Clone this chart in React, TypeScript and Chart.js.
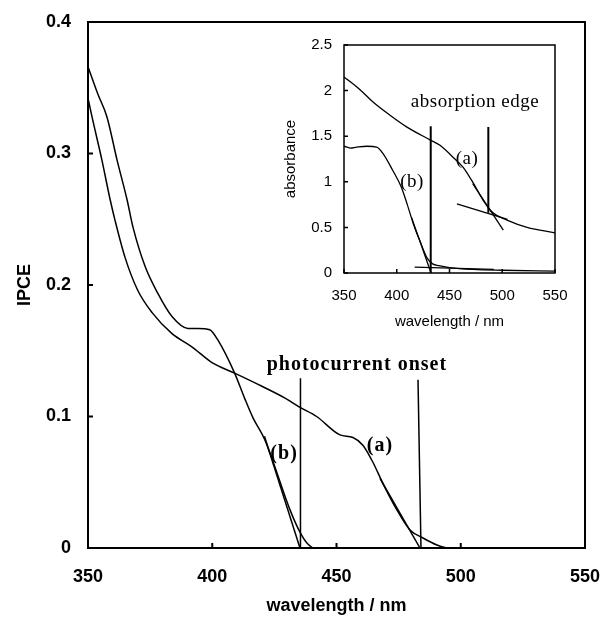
import React, { useEffect, useRef } from "react";
import { Chart, registerables } from "chart.js";
Chart.register(...registerables);

const W = 604;
const H = 618;

// ---------- Main chart: IPCE ----------
const xTicks = [350, 400, 450, 500, 550];
const ipceTicks = [0, 0.1, 0.2, 0.3, 0.4];

const ipceA_wl = [350, 351.6, 355.6, 358.9, 360.9, 364.9, 370, 375.8, 383.8, 391.8, 399.9, 409, 420, 429.3, 435.3, 442, 451.4, 456.6, 460.7, 464.7, 468.7, 474.3, 479.6, 484.8, 490.4, 495, 510];
const ipceA_val = [0.342, 0.328, 0.295, 0.265, 0.249, 0.221, 0.196, 0.179, 0.163, 0.153, 0.141, 0.133, 0.123, 0.114, 0.107, 0.1, 0.086, 0.084, 0.078, 0.065, 0.049, 0.029, 0.0137, 0.0076, 0.0023, 0, 0];

const ipceB_wl = [350, 354, 357.6, 361.7, 365.7, 368.1, 373, 378, 383.8, 390.2, 394.3, 399, 402.3, 409, 413, 416.4, 421, 424.4, 431.3, 435.3, 438, 441, 450];
const ipceB_val = [0.366, 0.345, 0.328, 0.295, 0.265, 0.244, 0.214, 0.194, 0.176, 0.167, 0.167, 0.166, 0.158, 0.133, 0.114, 0.099, 0.083, 0.066, 0.029, 0.012, 0.004, 0, 0];

const tangentA_wl = [467.5, 483.6];
const tangentA_val = [0.053, 0];
const tangentB_wl = [421, 435.3];
const tangentB_val = [0.085, 0];
const onsetA_wl = [482.8, 484];
const onsetA_val = [0.128, 0];
const onsetB_wl = [435.5, 435.5];
const onsetB_val = [0.129, 0];

const mainLabels = [
  { text: "photocurrent onset", x: 458.2, y: 0.139 },
  { text: "(b)", x: 428.9, y: 0.0715 },
  { text: "(a)", x: 467.5, y: 0.0776 },
];

// ---------- Inset: absorbance ----------
const absTicks = [0, 0.5, 1, 1.5, 2, 2.5];
const absTickLabels = ["0", "0.5", "1", "1.5", "2", "2.5"];

const absA_wl = [350, 365.2, 377.5, 393.6, 409.7, 431.5, 441, 453.3, 462.8, 472.3, 481.8, 491.2, 504.5, 523.5, 550];
const absA_val = [2.15, 2.01, 1.875, 1.73, 1.6, 1.46, 1.4, 1.27, 1.16, 0.99, 0.8, 0.66, 0.58, 0.5, 0.44];

const absB_wl = [350, 356, 362, 372, 381, 387, 396, 404, 410, 416, 422, 429, 434, 440, 450, 472, 500, 550];
const absB_val = [1.39, 1.37, 1.38, 1.39, 1.38, 1.31, 1.13, 0.95, 0.75, 0.53, 0.35, 0.16, 0.1, 0.08, 0.06, 0.04, 0.03, 0.02];

const absTanA1_wl = [457, 505];
const absTanA1_val = [0.757, 0.589];
const absTanA2_wl = [472, 501];
const absTanA2_val = [0.98, 0.47];
const absTanB1_wl = [414, 432.5];
const absTanB1_val = [0.61, 0];
const absTanB2_wl = [417, 492];
const absTanB2_val = [0.065, 0.04];
const edgeA_wl = [486.8, 486.8];
const edgeA_val = [1.6, 0.66];
const edgeB_wl = [432.2, 432.2];
const edgeB_val = [1.61, 0];

const insetLabels = [
  { text: "absorption edge", x: 474.2, y: 1.875 },
  { text: "(a)", x: 466.6, y: 1.25 },
  { text: "(b)", x: 414.5, y: 1.0 },
];

const pts = (xs: number[], ys: number[]) => xs.map((x, i) => ({ x, y: ys[i] }));

const curve = (xs: number[], ys: number[], w: number) => ({
  data: pts(xs, ys),
  borderColor: "#000",
  borderWidth: w,
  pointRadius: 0,
  cubicInterpolationMode: "monotone" as const,
  fill: false,
});
const straight = (xs: number[], ys: number[], w: number) => ({
  data: pts(xs, ys),
  borderColor: "#000",
  borderWidth: w,
  pointRadius: 0,
  tension: 0,
  fill: false,
});

const framePlugin = (lw: number, tickLen: number, xt: number[], yt: number[]) => ({
  id: "frameTicks",
  afterDatasetsDraw(chart: any) {
    const { ctx, chartArea: a, scales } = chart;
    ctx.save();
    ctx.strokeStyle = "#000";
    ctx.lineWidth = lw;
    ctx.strokeRect(a.left, a.top, a.right - a.left, a.bottom - a.top);
    ctx.beginPath();
    for (const v of xt) {
      const px = scales.x.getPixelForValue(v);
      ctx.moveTo(px, a.bottom);
      ctx.lineTo(px, a.bottom - tickLen);
    }
    for (const v of yt) {
      const py = scales.y.getPixelForValue(v);
      ctx.moveTo(a.left, py);
      ctx.lineTo(a.left + tickLen, py);
    }
    ctx.stroke();
    ctx.restore();
  },
});

const textPlugin = (labels: { text: string; x: number; y: number }[], font: string, spacing: string) => ({
  id: "texts",
  afterDatasetsDraw(chart: any) {
    const { ctx, scales } = chart;
    ctx.save();
    ctx.fillStyle = "#000";
    ctx.font = font;
    ctx.textAlign = "center";
    ctx.textBaseline = "middle";
    (ctx as any).letterSpacing = spacing;
    for (const l of labels) {
      ctx.fillText(l.text, scales.x.getPixelForValue(l.x), scales.y.getPixelForValue(l.y));
    }
    ctx.restore();
  },
});

const noPad = (s: any) => {
  s.paddingLeft = 0;
  s.paddingRight = 0;
  s.paddingTop = 0;
  s.paddingBottom = 0;
};

export default function App() {
  const mainRef = useRef<HTMLCanvasElement>(null);
  const insetRef = useRef<HTMLCanvasElement>(null);

  useEffect(() => {
    const sans = "'Liberation Sans', Arial, sans-serif";
    const boldTick = { family: sans, size: 18, weight: "bold" as const };
    const main = new Chart(mainRef.current!, {
      type: "line",
      data: {
        datasets: [
          curve(ipceA_wl, ipceA_val, 1.5),
          curve(ipceB_wl, ipceB_val, 1.5),
          straight(tangentA_wl, tangentA_val, 1.5),
          straight(tangentB_wl, tangentB_val, 1.5),
          straight(onsetA_wl, onsetA_val, 1.5),
          straight(onsetB_wl, onsetB_val, 1.5),
        ],
      },
      options: {
        animation: false,
        responsive: false,
        events: [],
        layout: { padding: { left: 0, right: 19, top: 22, bottom: 0 } },
        plugins: { legend: { display: false }, tooltip: { enabled: false } },
        scales: {
          x: {
            type: "linear",
            min: 350,
            max: 550,
            afterBuildTicks: (s: any) => { s.ticks = xTicks.map((v) => ({ value: v })); },
            afterFit: (s: any) => { s.height = 70; noPad(s); },
            ticks: { font: boldTick, color: "#000", padding: 18, maxRotation: 0 },
            grid: { display: false, drawTicks: false },
            border: { display: false },
            title: { display: true, text: "wavelength / nm", color: "#000", font: boldTick, padding: { top: 0, bottom: 1 } },
          },
          y: {
            type: "linear",
            min: 0,
            max: 0.4,
            afterBuildTicks: (s: any) => { s.ticks = ipceTicks.map((v) => ({ value: v })); },
            afterFit: (s: any) => { s.width = 88; noPad(s); },
            ticks: { font: boldTick, color: "#000", padding: 17 },
            grid: { display: false, drawTicks: false },
            border: { display: false },
            title: { display: true, text: "IPCE", color: "#000", font: boldTick, padding: { top: 14, bottom: 0 } },
          },
        },
      },
      plugins: [
        framePlugin(2, 5, xTicks, ipceTicks),
        textPlugin(mainLabels, "bold 20px 'Liberation Serif', 'Times New Roman', serif", "1px"),
      ],
    } as any);

    const regTick = { family: sans, size: 15 };
    const inset = new Chart(insetRef.current!, {
      type: "line",
      data: {
        datasets: [
          curve(absA_wl, absA_val, 1.3),
          curve(absB_wl, absB_val, 1.3),
          straight(absTanA1_wl, absTanA1_val, 1.3),
          straight(absTanA2_wl, absTanA2_val, 1.3),
          straight(absTanB1_wl, absTanB1_val, 1.3),
          straight(absTanB2_wl, absTanB2_val, 1.3),
          straight(edgeA_wl, edgeA_val, 2),
          straight(edgeB_wl, edgeB_val, 2),
        ],
      },
      options: {
        animation: false,
        responsive: false,
        events: [],
        layout: { padding: { left: 270, right: 49, top: 45, bottom: 285 } },
        plugins: { legend: { display: false }, tooltip: { enabled: false } },
        scales: {
          x: {
            type: "linear",
            min: 350,
            max: 550,
            afterBuildTicks: (s: any) => { s.ticks = xTicks.map((v) => ({ value: v })); },
            afterFit: (s: any) => { s.height = 60; noPad(s); },
            ticks: { font: regTick, color: "#000", padding: 14, maxRotation: 0 },
            grid: { display: false, drawTicks: false },
            border: { display: false },
            title: { display: true, text: "wavelength / nm", color: "#000", font: regTick, padding: { top: 0, bottom: 2 } },
          },
          y: {
            type: "linear",
            min: 0,
            max: 2.5,
            afterBuildTicks: (s: any) => { s.ticks = absTicks.map((v) => ({ value: v })); },
            afterFit: (s: any) => { s.width = 74; noPad(s); },
            ticks: {
              font: regTick,
              color: "#000",
              padding: 12,
              callback: (v: number) => absTickLabels[absTicks.indexOf(v)] ?? String(v),
            },
            grid: { display: false, drawTicks: false },
            border: { display: false },
            title: { display: true, text: "absorbance", color: "#000", font: regTick, padding: { top: 12, bottom: 0 } },
          },
        },
      },
      plugins: [
        framePlugin(1.5, 4, xTicks, absTicks),
        textPlugin(insetLabels, "19px 'Liberation Serif', 'Times New Roman', serif", "0.5px"),
      ],
    } as any);

    return () => {
      main.destroy();
      inset.destroy();
    };
  }, []);

  return (
    <div style={{ position: "absolute", left: 0, top: 0, width: W, height: H, background: "#fff" }}>
      <canvas ref={mainRef} width={W} height={H} style={{ position: "absolute", left: 0, top: 0 }} />
      <canvas ref={insetRef} width={W} height={H} style={{ position: "absolute", left: 0, top: 0 }} />
    </div>
  );
}
